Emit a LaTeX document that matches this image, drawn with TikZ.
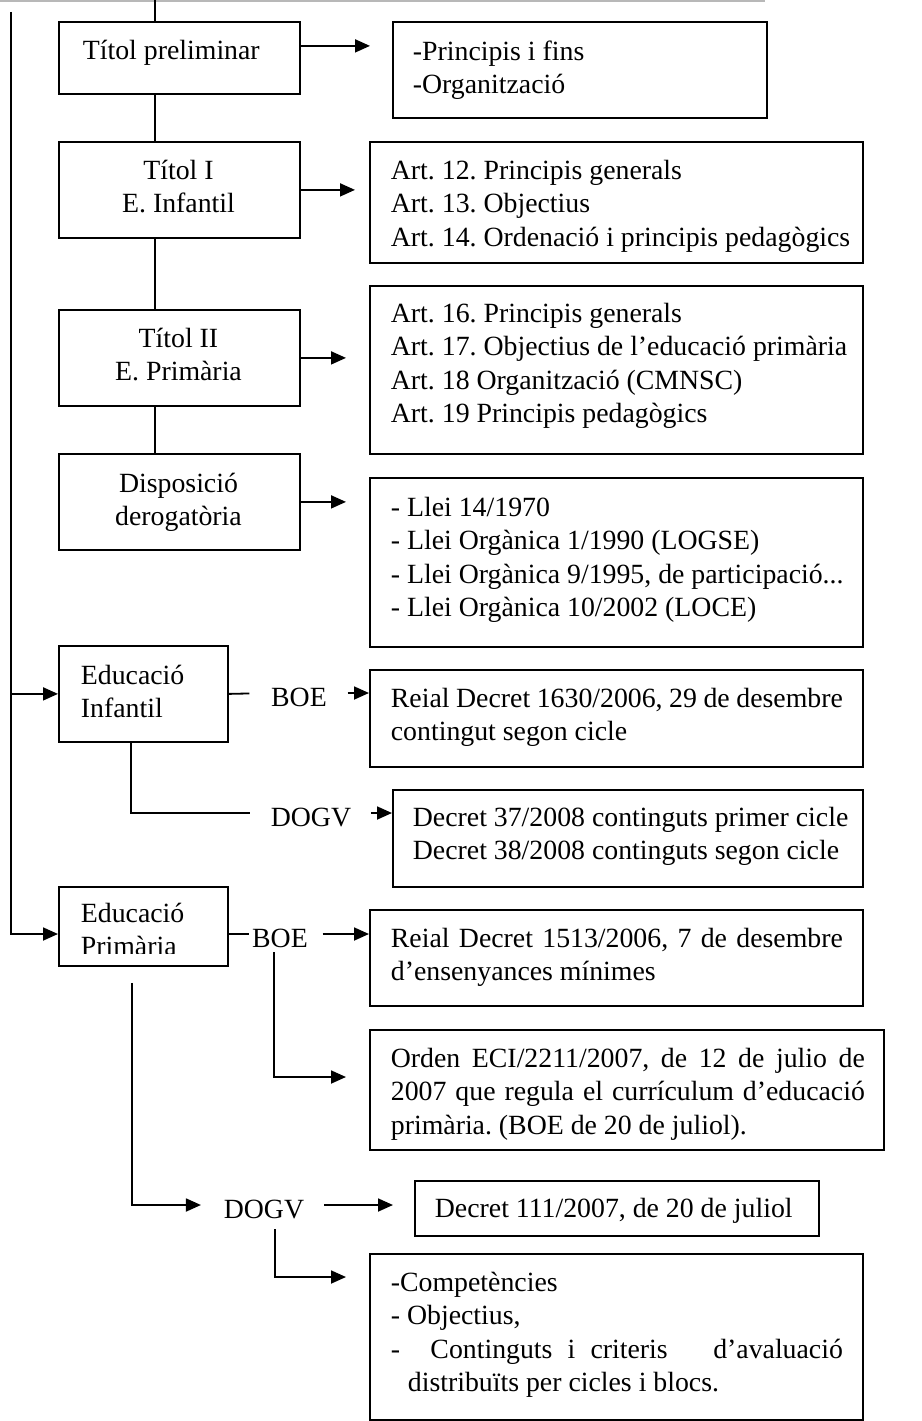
\documentclass[tikz,border=0pt]{standalone}
\usepackage{fontspec}
\setmainfont{Liberation Serif}
\usetikzlibrary{arrows.meta}
\frenchspacing
\newcommand\txtL[1]{\begin{tabular}[t]{@{}l@{}}#1\end{tabular}}
\newcommand\txtC[1]{\begin{tabular}[t]{@{}c@{}}#1\end{tabular}}
\begin{document}
\begin{tikzpicture}[x=1pt, y=-1pt, line width=1.8pt,
  every node/.style={font=\fontsize{27.8}{33.4}\selectfont},
  box/.style={draw, inner sep=0pt, anchor=north west},
  txt/.style={inner sep=0pt, anchor=base west},
  ctxt/.style={inner sep=0pt, anchor=base},
  lbl/.style={inner sep=0pt, text height=26.3pt, text depth=0pt},
  arr/.style={-{Triangle[length=15pt,width=13pt]}}]
\useasboundingbox (0,0) rectangle (921,1421);

% rule across the top of the page
\coordinate (ruleL) at (0,0.8);
\coordinate (ruleR) at (765,0.8);
\draw[line width=1.5pt, black!28] (ruleL) -- (ruleR);

% boxes
\node[box, minimum width=241pt, minimum height=72pt]  (tp)   at (58,21)   {};
\node[box, minimum width=374pt, minimum height=96pt]  (pf)   at (392,21)  {};
\node[box, minimum width=241pt, minimum height=96pt]  (t1)   at (58,141)  {};
\node[box, minimum width=493pt, minimum height=121pt] (a1)   at (369,141) {};
\node[box, minimum width=241pt, minimum height=96pt]  (t2)   at (58,309)  {};
\node[box, minimum width=493pt, minimum height=168pt] (a2)   at (369,285) {};
\node[box, minimum width=241pt, minimum height=96pt]  (dd)   at (58,453)  {};
\node[box, minimum width=493pt, minimum height=169pt] (ll)   at (369,477) {};
\node[box, minimum width=169pt, minimum height=96pt]  (ei)   at (58,645)  {};
\node[box, minimum width=493pt, minimum height=97pt]  (rd1)  at (369,669) {};
\node[box, minimum width=470pt, minimum height=97pt]  (d37)  at (392,789) {};
\node[box, minimum width=169pt, minimum height=79pt]  (ep)   at (58,886)  {};
\node[box, minimum width=493pt, minimum height=96pt]  (rd2)  at (369,909) {};
\node[box, minimum width=514pt, minimum height=120pt] (oe)   at (369,1029) {};
\node[box, minimum width=404pt, minimum height=55pt]  (d111) at (414,1180) {};
\node[box, minimum width=493pt, minimum height=166pt] (cc)   at (369,1253) {};

% texts inside the boxes
\node[txt] (tpT) at (82,59.5) {Títol preliminar};
\node[txt] (pfT) at (412,60) {\txtL{-Principis i fins\\-Organització}};
\node[ctxt] (t1T) at (178.5,179.5) {\txtC{Títol I\\E. Infantil}};
\node[txt] (a1T) at (390,179.5) {\txtL{Art. 12. Principis generals\\Art. 13. Objectius\\Art. 14. Ordenació i principis pedagògics}};
\node[ctxt] (t2T) at (178.5,347.5) {\txtC{Títol II\\E. Primària}};
\node[txt] (a2T) at (390,322.5) {\txtL{Art. 16. Principis generals\\Art. 17. Objectius de l’educació primària\\Art. 18 Organització (CMNSC)\\Art. 19 Principis pedagògics}};
\node[ctxt] (ddT) at (178.5,492.5) {\txtC{Disposició\\derogatòria}};
\node[txt] (llT) at (390,516.5) {\txtL{- Llei 14/1970\\- Llei Orgànica 1/1990 (LOGSE)\\- Llei Orgànica 9/1995, de participació...\\- Llei Orgànica 10/2002 (LOCE)}};
\node[txt] (eiT) at (80,684.5) {\txtL{Educació\\Infantil}};
\node[txt] (rd1T) at (390,707.5) {\txtL{\makebox[452pt][s]{Reial Decret 1630/2006, 29 de desembre}\\contingut segon cicle}};
\node[txt] (d37T) at (412,826.5) {\txtL{Decret 37/2008 continguts primer cicle\\Decret 38/2008 continguts segon cicle}};
\begin{scope}
  % the second line is cut off by the lower edge of its box
  \clip (60,888) rectangle (225,953);
  \node[txt] (epT) at (80,922.5) {\txtL{Educació\\Primària}};
\end{scope}
\node[txt] (rd2T) at (390,947.5) {\txtL{\makebox[452pt][s]{Reial Decret 1513/2006, 7 de desembre}\\d’ensenyances mínimes}};
\node[txt] (oeT) at (390,1067.5) {\txtL{\makebox[474pt][s]{Orden ECI/2211/2007, de 12 de julio de}\\\makebox[474pt][s]{2007 que regula el currículum d’educació}\\primària. (BOE de 20 de juliol).}};
\node[txt] (d111T) at (434,1217.5) {Decret 111/2007, de 20 de juliol};
\node[txt] (ccT) at (390,1291.5) {\txtL{-Competències\\- Objectius,\\\makebox[452pt][s]{-\ \ Continguts i criteris\ \ \ d’avaluació}\\\hspace{17pt}distribuïts per cicles i blocs.}};

% source labels
\node[lbl] (boe1)  at (299,693)  {BOE};
\node[lbl] (dogv1) at (311,813)  {DOGV};
\node[lbl] (boe2)  at (280,934)  {BOE};
\node[lbl] (dogv2) at (264,1205) {DOGV};

% main trunk of the law
\coordinate (trk) at (155,0);
\draw (trk) -- (trk |- tp.north);
\draw (trk |- tp.south) -- (trk |- t1.north);
\draw (trk |- t1.south) -- (trk |- t2.north);
\draw (trk |- t2.south) -- (trk |- dd.north);

% title sections to their contents
\draw[arr, shorten >=22pt] ([yshift=12pt]tp.east) -- ([yshift=12pt]tp.east -| pf.west);
\draw[arr, shorten >=14pt] (t1.east) -- (t1.east -| a1.west);
\draw[arr, shorten >=23pt] (t2.east) -- (t2.east -| a2.west);
\draw[arr, shorten >=23pt] (dd.east) -- (dd.east -| ll.west);

% left trunk to the two stages
\coordinate (lt) at (11,12);
\draw[arr] (lt |- ei.west) -- (ei.west);
\draw[arr] (lt) |- (boe2 -| ep.west);

% Educació Infantil
\draw[shorten >=21pt] (ei.east) -- (boe1.west);
\draw[arr, shorten <=20pt] (boe1.east) -- (boe1.east -| rd1.west);
\draw[shorten >=20pt] ([xshift=-12.5pt]ei.south) |- (dogv1.west);
\draw[arr, shorten <=19pt] (dogv1.east) -- (dogv1.east -| d37.west);

% Educació Primària
\draw[shorten >=2pt] (ep.east |- boe2.west) -- (boe2.west);
\draw[arr, shorten <=14pt] (boe2.east) -- (boe2.east -| rd2.west);
\coordinate (oeIn) at (346,1077);
\draw[arr] ([xshift=-6pt,yshift=-4pt]boe2.south) |- (oeIn);
\draw[arr, shorten >=22pt] ([xshift=-11.5pt,yshift=-16pt]ep.south) |- (dogv2.west);
\draw[arr, shorten <=19pt, shorten >=21pt] (dogv2.east) -- (dogv2.east -| d111.west);
\coordinate (ccIn) at (346,1277);
\draw[arr] ([xshift=11pt,yshift=-10pt]dogv2.south) |- (ccIn);
\end{tikzpicture}
\end{document}
